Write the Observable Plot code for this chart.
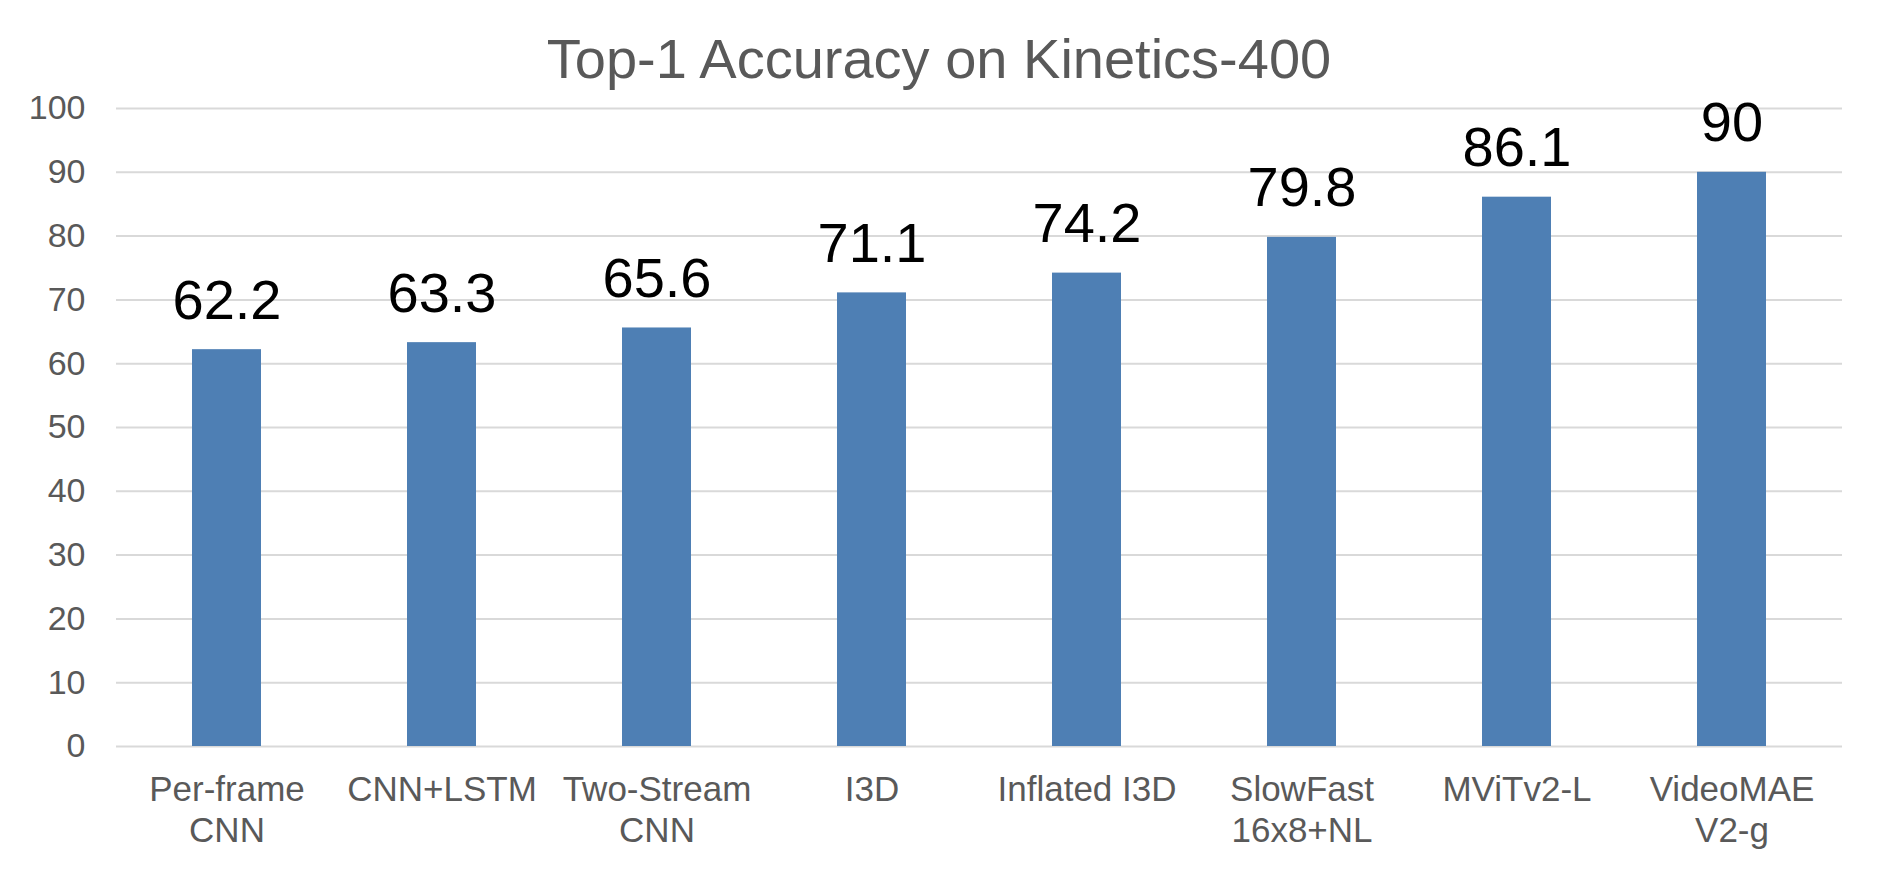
<!DOCTYPE html>
<html>
<head>
<meta charset="utf-8">
<script src="https://cdn.jsdelivr.net/npm/d3@7"></script>
<script src="https://cdn.jsdelivr.net/npm/@observablehq/plot@0.6"></script>
<style>
  html, body { margin: 0; padding: 0; background: #fff; overflow: hidden; }
  #wrap { position: relative; width: 1878px; height: 884px; }
  #title {
    position: absolute; left: 0; top: 31px; width: 1878px;
    text-align: center; font-family: "Liberation Sans", Arial, Helvetica, sans-serif;
    font-size: 56px; line-height: 56px; color: #595959; white-space: nowrap;
  }
  #chart { position: absolute; left: 0; top: 0; }
</style>
</head>
<body>
<div id="wrap">
  <div id="chart"></div>
  <div id="title">Top-1 Accuracy on Kinetics-400</div>
</div>
<script>
const titleText = "Top-1 Accuracy on Kinetics-400";
const models = ["Per-frame\nCNN", "CNN+LSTM", "Two-Stream\nCNN", "I3D", "Inflated I3D", "SlowFast\n16x8+NL", "MViTv2-L", "VideoMAE\nV2-g"];
const accuracy = [62.2, 63.3, 65.6, 71.1, 74.2, 79.8, 86.1, 90];
const yTicks = [0, 10, 20, 30, 40, 50, 60, 70, 80, 90, 100];

document.getElementById("title").textContent = titleText;

const data = models.map((m, i) => ({model: m, acc: accuracy[i]}));

const font = '"Liberation Sans", Arial, Helvetica, sans-serif';

const chart = Plot.plot({
  width: 1878,
  height: 884,
  marginTop: 108,
  marginBottom: 138,
  marginLeft: 116,
  marginRight: 36,
  style: {fontFamily: font, background: "#fff", overflow: "visible"},
  x: {domain: models, paddingInner: 0.68, paddingOuter: 0.34, axis: null},
  y: {domain: [0, 100], axis: null},
  marks: [
    Plot.gridY(yTicks, {stroke: "#d9d9d9", strokeOpacity: 1, strokeWidth: 2}),
    Plot.axisY(yTicks, {tickSize: 0, tickPadding: 31, fontSize: 34, fill: "#595959", label: null, tickFormat: d => String(d)}),
    Plot.barY(data, {x: "model", y: "acc", fill: "#4e7fb4"}),
    Plot.text(data, {x: "model", y: "acc", text: d => String(d.acc), lineAnchor: "bottom", dy: -31, fontSize: 56, fill: "#000"}),
    Plot.text(models, {x: d => d, frameAnchor: "bottom", text: d => d, lineAnchor: "top", lineHeight: 1.17, dy: 25, fontSize: 35, fill: "#595959"})
  ]
});
document.getElementById("chart").appendChild(chart);
</script>
</body>
</html>
